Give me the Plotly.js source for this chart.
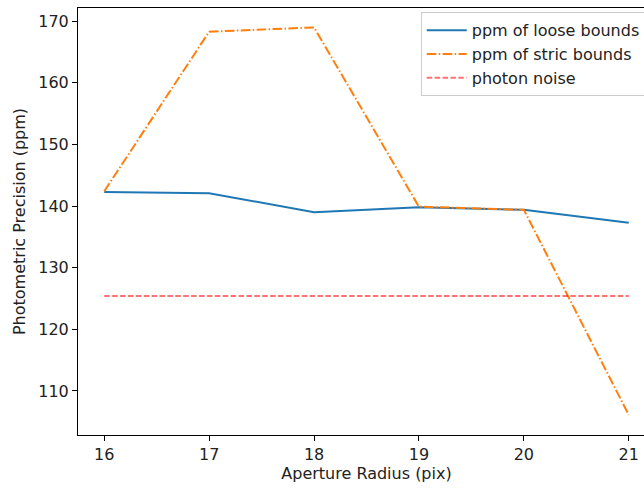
<!DOCTYPE html>
<html>
<head>
<meta charset="utf-8">
<script src="https://cdn.plot.ly/plotly-3.0.1.min.js"></script>
<style>
html,body{margin:0;padding:0;overflow:hidden;background:#fff;width:644px;height:489px;}
#chart{width:680px;height:489px;}
</style>
</head>
<body>
<div id="chart"></div>
<script>
const apertureRadius = [16, 17, 18, 19, 20, 21];
const ppmLoose = [142.3, 142.1, 139.0, 139.8, 139.4, 137.3];
const ppmStrict = [142.4, 168.3, 169.0, 139.9, 139.4, 106.1];
const photonNoise = [125.4, 125.4, 125.4, 125.4, 125.4, 125.4];
const seriesNames = ["ppm of loose bounds", "ppm of stric bounds", "photon noise"];

const traces = [
  {x: apertureRadius, y: ppmLoose, name: seriesNames[0], mode: "lines",
   line: {color: "#1f77b4", width: 2}},
  {x: apertureRadius, y: ppmStrict, name: seriesNames[1], mode: "lines",
   line: {color: "#ff7f0e", width: 2, dash: "9.6px,2.4px,1.5px,2.4px"}},
  {x: apertureRadius, y: photonNoise, name: seriesNames[2], mode: "lines",
   line: {color: "rgba(255,0,0,0.55)", width: 2, dash: "5.5px,2.4px"}}
];

const FS = 16;
const axisCommon = {
  showline: true, mirror: true, linecolor: "#000", linewidth: 1,
  ticks: "outside", ticklen: 5, tickcolor: "#000", tickwidth: 1,
  showgrid: false, zeroline: false,
  tickfont: {family: "DejaVu Sans", size: FS, color: "#222"}
};

const layout = {
  width: 680, height: 489,
  margin: {l: 78, r: 25, t: 8, b: 54},
  paper_bgcolor: "#fff", plot_bgcolor: "#fff",
  font: {family: "DejaVu Sans", size: FS, color: "#222"},
  xaxis: Object.assign({}, axisCommon, {
    range: [15.75, 21.25], tickvals: apertureRadius,
    title: {text: "Aperture Radius (pix)", font: {family: "DejaVu Sans", size: FS}, standoff: 4}
  }),
  yaxis: Object.assign({}, axisCommon, {
    range: [102.85, 172.15], tickvals: [110, 120, 130, 140, 150, 160, 170],
    title: {text: "Photometric Precision (ppm)", font: {family: "DejaVu Sans", size: FS}, standoff: 8}
  }),
  showlegend: true,
  legend: {
    x: 0.594, xanchor: "left", y: 0.99, yanchor: "top",
    bgcolor: "rgba(255,255,255,0.8)", bordercolor: "#cccccc", borderwidth: 1,
    font: {family: "DejaVu Sans", size: FS, color: "#222"},
    tracegroupgap: 0, itemwidth: 40
  }
};

Plotly.newPlot("chart", traces, layout, {displayModeBar: false, staticPlot: true});
</script>
</body>
</html>
